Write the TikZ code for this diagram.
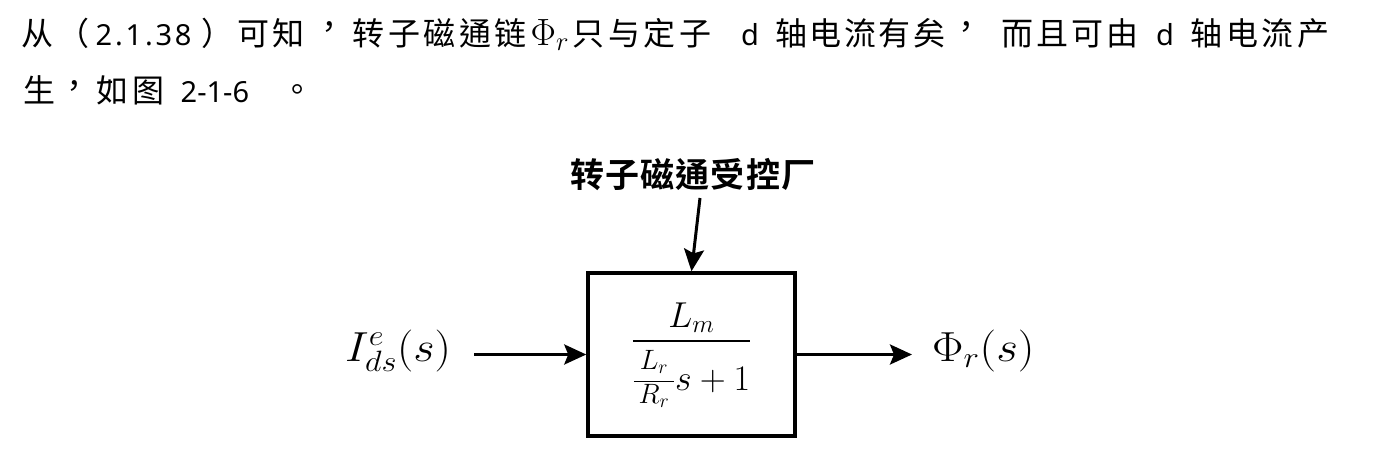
\documentclass[tikz,border=0pt]{standalone}
\usepackage{fix-cm}
\usepackage{amsmath}
\usepackage{fontspec}
\usetikzlibrary{arrows.meta}
\newfontfamily\cjk{Noto Sans CJK TC}
\newfontfamily\cjkb[LetterSpace=3]{Noto Sans CJK TC Bold}
\newfontfamily\lat{Noto Sans}
\newcommand\latsz{\lat\fontsize{29}{34}\selectfont}
\newlength\zw
\def\zrow#1#2{\setlength\zw{#1}\zrowi#2\relax}
\def\zrowi#1{\ifx#1\relax\else\makebox[\zw]{#1}\expandafter\zrowi\fi}
\newcommand\zpunct[4]{\makebox[#1][l]{\hspace{#2}\raisebox{#3}{#4}}}
\begin{document}
\begin{tikzpicture}[x=1pt,y=-1pt,
  txt/.style={anchor=base west, inner sep=0pt, font=\fontsize{32}{40}\selectfont\cjk},
  mth/.style={anchor=base west, inner sep=0pt, font=\fontsize{42}{48}\selectfont},
  arr/.style={line width=3pt, -{Stealth[length=22pt,width=20pt,inset=4pt]}},
  blk/.style={draw, line width=3.5pt, minimum width=207pt, minimum height=163pt, inner sep=0pt},
  tf/.style={anchor=base, inner sep=0pt, font=\fontsize{36}{44}\selectfont}]
\fill[white] (0,0) rectangle (1385,461);
\useasboundingbox (0,0) rectangle (1385,461);
\node[txt] (line1) at (20,45) {\zrow{35.5pt}{从（}\hspace{4.5pt}\makebox[104.5pt][l]{\latsz 2\hspace{2.8pt}.\hspace{2.8pt}1\hspace{2.8pt}.\hspace{2.8pt}3\hspace{2.8pt}8}\zrow{35.5pt}{）可知}\zpunct{44.5pt}{7pt}{7pt}{，}\zrow{35.5pt}{转子磁通链}\makebox[42.5pt][l]{\hspace{2pt}\fontsize{38}{40}\selectfont$\Phi_r$}\zrow{35.5pt}{只与定子}\makebox[61pt][l]{\hspace{28pt}\latsz d}\zrow{34.5pt}{轴电流有矣}\zpunct{53.5pt}{4pt}{7pt}{，}\zrow{35pt}{而且可由}\makebox[49pt][l]{\hspace{16pt}\latsz d}\zrow{35.5pt}{轴电流产}};
\node[txt] (line2) at (22,102) {\zrow{35pt}{生}\zpunct{38pt}{1.5pt}{5pt}{，}\zrow{35.5pt}{如图}\makebox[83pt][l]{\hspace{14.5pt}\latsz 2-1-6}\zpunct{35pt}{32pt}{1pt}{。}};
\node[inner sep=0pt, font=\fontsize{34}{40}\selectfont\cjkb] (title) at (693,175) {转子磁通受控厂};
\coordinate (topstart) at (700,198);
\node[blk] (box) at (691.5,354.5) {};
\node[tf] (tfun) at (691.5,350) {$\displaystyle\genfrac{}{}{2.4pt}{0}{\raisebox{-5pt}[0pt][0pt]{$L_m$}}{\rule{0pt}{41pt}\genfrac{}{}{1.8pt}{1}{\makebox[40pt]{\fontsize{28}{30}\selectfont$L_r$}\rule[-9pt]{0pt}{9pt}}{\makebox[40pt]{\fontsize{28}{30}\selectfont$R_r$}}s+1}$};
\node[mth] (in) at (345,361) {\scalebox{1.1}[1]{$I^e_{ds}(s)$}};
\node[mth] (out) at (932,361) {\scalebox{1.12}[1]{$\Phi_r(s)$}};
\draw[arr] (topstart) -- (box.north);
\draw[arr, shorten <=23pt] (in.east |- box.west) -- (box.west);
\draw[arr, shorten >=20pt] (box.east) -- (box.east -| out.west);
\end{tikzpicture}
\end{document}
